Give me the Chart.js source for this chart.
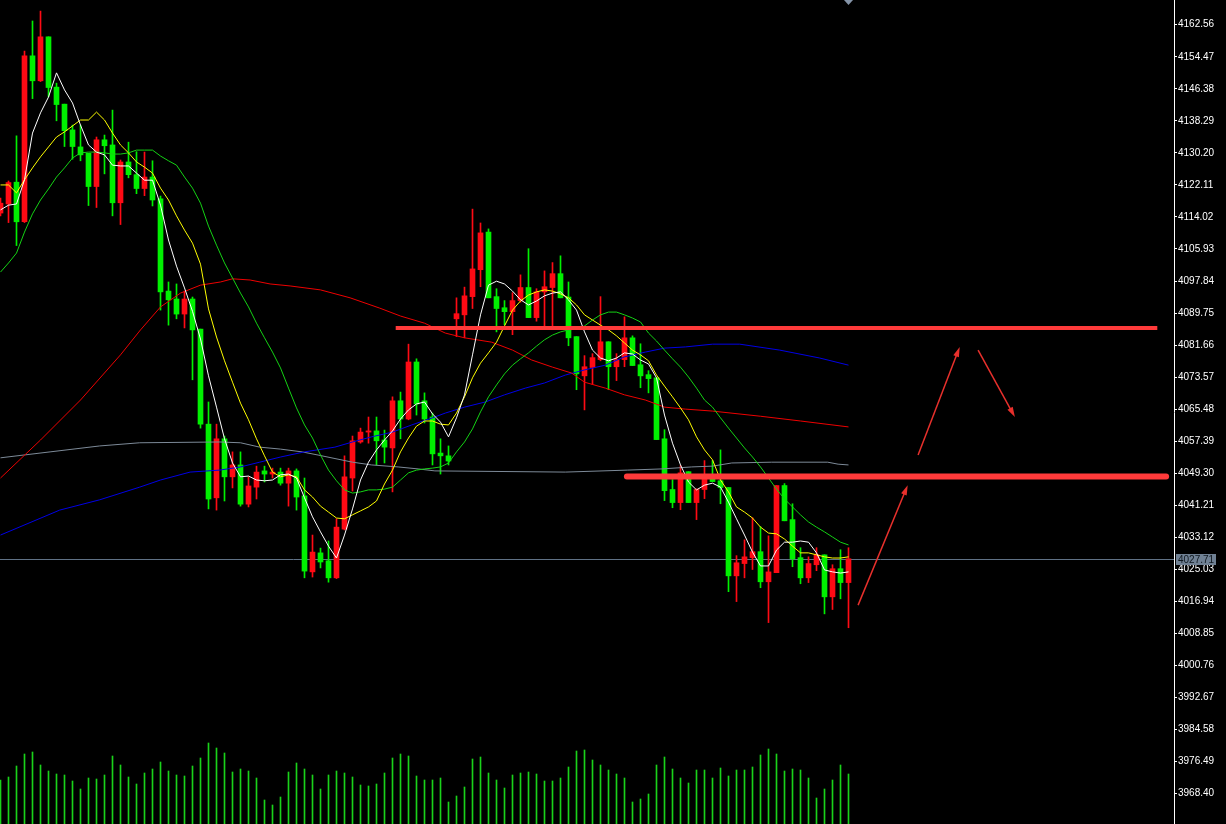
<!DOCTYPE html>
<html>
<head>
<meta charset="utf-8">
<script src="https://cdn.jsdelivr.net/npm/chart.js@4.4.0/dist/chart.umd.min.js"></script>
<style>
html, body { margin: 0; padding: 0; background: #000; overflow: hidden; }
#wrap { width: 1226px; height: 824px; }
</style>
</head>
<body>
<div id="wrap"><canvas id="myChart" width="1226" height="824"></canvas></div>
<script>
// price scale labels (right axis)
const yTicks = [3968.40, 3976.49, 3984.58, 3992.67, 4000.76, 4008.85, 4016.94, 4025.03, 4033.12, 4041.21,
    4049.30, 4057.39, 4065.48, 4073.57, 4081.66, 4089.75, 4097.84, 4105.93, 4114.02, 4122.11,
    4130.20, 4138.29, 4146.38, 4154.47, 4162.56];

const candleOpen = [4115.0, 4117.3, 4122.8, 4112.8, 4154.7, 4148.4, 4159.5, 4146.8, 4142.5, 4136.0,
    4131.7, 4130.1, 4121.7, 4133.5, 4132.2, 4117.6, 4127.9, 4124.7, 4121.2, 4124.1,
    4118.6, 4095.3, 4093.3, 4089.5, 4093.3, 4085.7, 4061.7, 4043.1, 4058.0, 4048.4,
    4051.4, 4041.5, 4045.8, 4049.9, 4049.1, 4049.6, 4046.8, 4049.9, 4043.6, 4024.4,
    4029.2, 4027.2, 4022.9, 4035.2, 4048.1, 4057.2, 4059.7, 4060.0, 4057.7, 4055.7,
    4067.6, 4063.0, 4077.4, 4067.6, 4063.5, 4054.4, 4053.7, 4088.3, 4089.3, 4093.9,
    4100.7, 4110.2, 4093.9, 4091.1, 4090.1, 4092.9, 4096.2, 4088.6, 4095.1, 4096.2,
    4099.7, 4093.8, 4083.8, 4073.9, 4076.0, 4078.0, 4082.5, 4076.2, 4078.0, 4083.5,
    4076.7, 4074.2, 4073.4, 4058.0, 4045.2, 4041.9, 4049.7, 4041.9, 4045.2, 4047.9,
    4047.4, 4045.7, 4023.4, 4026.5, 4028.0, 4029.5, 4021.9, 4024.2, 4046.2, 4037.6,
    4028.0, 4022.9, 4026.2, 4028.7, 4018.1, 4025.2, 4021.7];
const candleHigh = [4118.8, 4123.1, 4134.5, 4155.9, 4163.5, 4166.0, 4159.5, 4147.8, 4142.5, 4137.2,
    4137.2, 4130.1, 4134.2, 4134.7, 4141.0, 4128.4, 4132.9, 4130.5, 4130.4, 4128.2,
    4119.3, 4097.6, 4097.1, 4095.3, 4093.8, 4085.7, 4067.3, 4061.7, 4058.7, 4054.7,
    4054.7, 4048.4, 4051.1, 4051.1, 4050.6, 4050.6, 4050.6, 4050.4, 4048.1, 4033.7,
    4030.4, 4032.2, 4037.8, 4053.7, 4058.7, 4060.7, 4063.5, 4063.5, 4060.2, 4068.6,
    4069.8, 4081.9, 4078.2, 4069.6, 4064.5, 4058.0, 4056.2, 4093.6, 4096.3, 4116.0,
    4112.5, 4111.0, 4095.9, 4092.9, 4094.9, 4099.4, 4106.0, 4095.9, 4100.4, 4102.5,
    4104.2, 4097.6, 4083.8, 4079.0, 4079.5, 4093.9, 4082.5, 4079.5, 4088.8, 4084.0,
    4082.0, 4075.2, 4073.4, 4060.3, 4047.7, 4051.2, 4049.7, 4045.4, 4052.5, 4052.5,
    4055.2, 4045.7, 4028.5, 4032.5, 4038.1, 4035.8, 4033.5, 4046.2, 4046.7, 4041.6,
    4030.5, 4028.2, 4030.5, 4028.7, 4026.2, 4030.0, 4030.5];
const candleLow = [4114.3, 4112.6, 4106.8, 4112.6, 4143.9, 4148.2, 4144.4, 4138.3, 4131.8, 4128.6,
    4128.2, 4116.9, 4116.4, 4124.9, 4114.3, 4112.1, 4123.9, 4119.9, 4119.4, 4116.8,
    4090.5, 4086.7, 4088.3, 4086.0, 4072.9, 4060.7, 4040.3, 4040.0, 4042.3, 4045.6,
    4041.0, 4040.8, 4042.8, 4047.1, 4048.1, 4046.3, 4041.0, 4040.0, 4022.9, 4023.1,
    4025.4, 4021.8, 4022.7, 4035.0, 4044.8, 4056.9, 4056.9, 4051.4, 4051.9, 4044.6,
    4058.0, 4062.8, 4064.0, 4062.0, 4051.4, 4049.1, 4051.4, 4083.8, 4083.5, 4090.9,
    4096.4, 4093.6, 4085.0, 4086.8, 4084.3, 4092.5, 4088.6, 4087.7, 4086.3, 4086.1,
    4093.6, 4081.5, 4070.4, 4065.3, 4071.7, 4077.7, 4070.4, 4072.7, 4076.2, 4076.5,
    4070.9, 4069.6, 4057.8, 4042.4, 4040.6, 4040.1, 4041.9, 4037.6, 4042.9, 4047.2,
    4041.6, 4019.4, 4016.9, 4022.9, 4025.0, 4020.4, 4011.6, 4024.2, 4037.3, 4025.7,
    4021.4, 4021.7, 4024.7, 4013.8, 4014.9, 4017.6, 4010.3];
const candleClose = [4117.5, 4122.7, 4112.8, 4154.7, 4148.4, 4159.5, 4146.7, 4142.4, 4135.8, 4131.8,
    4129.7, 4121.7, 4133.5, 4132.0, 4117.6, 4127.9, 4124.7, 4121.2, 4124.1, 4118.3,
    4095.1, 4093.1, 4089.5, 4093.3, 4085.5, 4061.7, 4042.8, 4058.0, 4048.4, 4051.4,
    4041.5, 4046.1, 4049.6, 4049.1, 4049.6, 4046.8, 4049.9, 4043.3, 4024.6, 4029.4,
    4026.9, 4022.9, 4035.7, 4048.4, 4057.5, 4059.7, 4060.0, 4057.5, 4055.9, 4067.6,
    4063.0, 4077.4, 4066.8, 4063.0, 4054.2, 4053.7, 4052.4, 4089.6, 4094.1, 4100.9,
    4110.0, 4093.6, 4090.9, 4090.1, 4092.9, 4096.2, 4088.6, 4095.1, 4096.4, 4099.7,
    4093.6, 4083.5, 4074.4, 4076.2, 4078.5, 4082.5, 4076.2, 4078.0, 4083.5, 4076.5,
    4073.9, 4073.2, 4057.8, 4044.9, 4041.9, 4049.4, 4041.9, 4045.2, 4047.9, 4047.2,
    4045.7, 4023.4, 4026.7, 4028.2, 4029.5, 4021.9, 4024.4, 4046.2, 4037.3, 4027.7,
    4022.9, 4026.5, 4028.7, 4018.1, 4025.2, 4021.7, 4027.71];

const volume = [44, 47, 58, 70, 72, 59, 53, 50, 49, 43, 35, 46, 45, 49, 68, 59, 47, 40, 51, 55,
    62, 53, 49, 48, 58, 66, 81, 76, 71, 52, 55, 53, 46, 24, 19, 27, 52, 61, 55, 49,
    35, 49, 53, 51, 47, 39, 38, 40, 51, 66, 70, 68, 48, 44, 44, 46, 22, 28, 37, 65,
    67, 51, 44, 36, 49, 51, 52, 50, 43, 43, 46, 57, 73, 74, 64, 59, 54, 50, 46, 22,
    25, 30, 59, 67, 55, 46, 41, 54, 54, 46, 56, 48, 54, 54, 57, 69, 75, 70, 53, 55,
    54, 46, 26, 35, 44, 59, 50];

// moving averages, one value per candle
const ma5 = [4115.8, 4117.0, 4117.3, 4123.4, 4135.2, 4140.3, 4144.3, 4150.4, 4146.1, 4142.8,
    4137.2, 4132.2, 4130.4, 4129.7, 4127.1, 4126.9, 4126.9, 4125.1, 4123.3, 4123.3,
    4117.0, 4108.2, 4101.6, 4096.1, 4090.2, 4083.2, 4073.9, 4066.0, 4058.0, 4051.9,
    4048.4, 4048.6, 4047.6, 4047.4, 4047.6, 4048.9, 4049.1, 4048.1, 4043.1, 4038.3,
    4034.5, 4030.9, 4027.9, 4033.7, 4040.3, 4047.6, 4052.1, 4055.2, 4057.7, 4060.0,
    4063.0, 4065.3, 4066.8, 4067.3, 4064.3, 4062.2, 4058.5, 4063.3, 4069.1, 4079.2,
    4089.3, 4096.8, 4097.8, 4097.1, 4095.3, 4093.1, 4091.8, 4092.8, 4094.1, 4094.8,
    4095.1, 4093.1, 4090.5, 4085.0, 4080.4, 4078.4, 4077.7, 4078.4, 4079.7, 4079.4,
    4077.9, 4076.9, 4073.4, 4064.0, 4056.9, 4051.4, 4047.1, 4045.1, 4046.3, 4046.8,
    4045.8, 4042.0, 4037.8, 4033.7, 4029.4, 4025.9, 4025.9, 4029.9, 4031.9, 4031.9,
    4032.2, 4031.9, 4029.2, 4024.9, 4024.4, 4024.1, 4024.4];
const ma10 = [4122.1, 4122.1, 4120.1, 4123.4, 4126.4, 4129.2, 4131.7, 4134.2, 4135.5, 4137.0,
    4138.5, 4138.5, 4140.5, 4138.5, 4135.2, 4132.2, 4130.2, 4127.9, 4126.6, 4125.1,
    4121.3, 4118.3, 4114.3, 4110.7, 4107.4, 4102.1, 4090.8, 4083.7, 4077.7, 4072.3,
    4067.0, 4062.8, 4058.0, 4053.7, 4049.6, 4048.4, 4048.9, 4048.4, 4045.1, 4043.3,
    4041.0, 4039.5, 4038.0, 4037.8, 4038.8, 4039.8, 4040.8, 4042.3, 4046.6, 4050.1,
    4054.7, 4058.2, 4061.2, 4062.5, 4062.5, 4061.7, 4061.5, 4064.5, 4068.6, 4073.4,
    4077.1, 4079.7, 4082.4, 4086.5, 4090.5, 4092.8, 4094.3, 4095.1, 4095.6, 4095.3,
    4094.6, 4093.6, 4091.8, 4089.3, 4088.0, 4086.7, 4085.5, 4084.0, 4082.2, 4080.4,
    4079.2, 4077.7, 4074.1, 4071.3, 4068.6, 4065.8, 4062.8, 4058.5, 4055.2, 4052.7,
    4047.6, 4044.6, 4040.8, 4039.5, 4038.0, 4035.7, 4034.2, 4034.0, 4032.7, 4030.9,
    4029.2, 4029.2, 4028.7, 4028.2, 4027.9, 4027.9, 4028.2];
const ma20 = [4100.1, 4102.4, 4104.9, 4110.2, 4114.8, 4118.3, 4121.1, 4124.1, 4126.4, 4128.9,
    4130.2, 4130.4, 4130.4, 4130.2, 4129.9, 4129.9, 4130.2, 4130.9, 4130.9, 4130.9,
    4129.4, 4128.2, 4127.1, 4124.1, 4121.3, 4117.5, 4111.7, 4106.9, 4102.4, 4098.6,
    4094.8, 4091.3, 4087.2, 4083.5, 4079.9, 4075.9, 4070.8, 4065.8, 4061.5, 4058.2,
    4053.9, 4050.1, 4047.4, 4045.1, 4044.3, 4044.6, 4045.1, 4045.1, 4045.3, 4045.8,
    4047.6, 4049.4, 4050.1, 4050.4, 4050.6, 4050.9, 4051.9, 4054.7, 4057.2, 4060.5,
    4064.8, 4068.6, 4071.6, 4074.4, 4076.6, 4078.2, 4079.7, 4081.4, 4083.0, 4084.2,
    4085.0, 4085.5, 4085.7, 4086.5, 4088.0, 4089.3, 4090.0, 4090.0, 4089.3, 4088.5,
    4087.5, 4084.7, 4082.7, 4080.4, 4078.2, 4076.1, 4073.6, 4070.8, 4067.8, 4066.0,
    4063.3, 4060.7, 4058.2, 4055.7, 4053.4, 4050.9, 4048.1, 4045.3, 4042.8, 4040.8,
    4038.8, 4037.0, 4035.7, 4034.5, 4033.2, 4031.9, 4031.2];

// slow averages read at sample points: [candle index, price]
const ma60 = [[0, 4048.1], [5, 4057.7], [10, 4067.8], [15, 4079.2], [17.5, 4085.5], [20, 4091.3],
    [22.5, 4094.8], [25, 4096.8], [27.5, 4097.6], [29, 4098.4], [31.2, 4098.1], [33.7, 4097.1],
    [36.2, 4096.6], [40, 4095.6], [43.7, 4093.6], [47.4, 4091.0], [50, 4089.0], [53, 4087.2],
    [55.6, 4084.7], [58, 4083.5], [61.4, 4082.4], [64, 4080.4], [66.4, 4077.9], [69, 4076.1],
    [71.4, 4074.6], [73, 4072.3], [75.6, 4070.8], [78, 4069.1], [80.6, 4067.8], [83, 4066.0],
    [85.6, 4065.5], [89, 4065.0], [95, 4063.7], [100, 4062.5], [106, 4061.0]];
const ma120 = [[0, 4033.7], [7.4, 4040.0], [12.4, 4042.6], [17.4, 4045.8], [20, 4047.6], [23.7, 4049.6],
    [27.4, 4050.1], [30, 4050.9], [32.4, 4052.1], [35, 4053.4], [38, 4054.7], [41.8, 4055.9],
    [44, 4057.2], [46.4, 4058.5], [49, 4059.7], [51.4, 4061.5], [54, 4063.3], [55.6, 4064.5],
    [58, 4066.0], [60.6, 4067.3], [63, 4069.1], [65.6, 4070.8], [68, 4072.1], [70.6, 4074.1],
    [73, 4075.4], [75.6, 4076.6], [78, 4078.7], [80.6, 4079.9], [83, 4080.9], [85.6, 4081.2],
    [89, 4081.9], [92.4, 4081.9], [97.4, 4080.4], [102.4, 4078.4], [106, 4076.6]];
const ma250 = [[0, 4053.2], [6.2, 4054.7], [12.4, 4056.2], [17.4, 4057.0], [27.4, 4057.2], [30, 4057.0],
    [32.4, 4055.9], [35, 4055.4], [37.7, 4054.7], [39.7, 4053.9], [44, 4052.1], [46.4, 4051.4],
    [49.7, 4050.9], [52.2, 4050.4], [54.3, 4049.9], [70.6, 4049.6], [78.4, 4050.1], [82.7, 4050.4],
    [86.4, 4050.9], [89, 4051.1], [91.4, 4051.9], [96.4, 4052.1], [103.4, 4052.1], [104.7, 4051.6],
    [106, 4051.4]];

// hand-drawn marks, in candle index / price
const levelLines = [
    { from: 49.4, to: 144.6, price: 4086.0, width: 4 },
    { from: 78.3, to: 145.7, price: 4048.5, width: 6 }
];
const arrows = [
    { x0: 107.2, y0: 4016.0, x1: 113.4, y1: 4046.3 },
    { x0: 114.7, y0: 4053.9, x1: 119.9, y1: 4081.2 },
    { x0: 122.2, y0: 4080.4, x1: 126.8, y1: 4063.5 }
];

const idx = candleClose.map((_, i) => i);
const lastIdx = idx.length - 1;
const lastPrice = candleClose[lastIdx];
const candleColors = idx.map(i => candleClose[i] >= candleOpen[i] ? '#ff0a14' : '#00f000');

const overlay = {
    id: 'overlay',
    beforeDatasetsDraw(chart) {
        const { ctx, chartArea } = chart;
        const y = Math.round(chart.scales.y.getPixelForValue(lastPrice)) + 0.5;
        ctx.save();
        ctx.strokeStyle = '#5f7185';
        ctx.lineWidth = 1;
        ctx.beginPath();
        ctx.moveTo(chartArea.left, y);
        ctx.lineTo(chartArea.right, y);
        ctx.stroke();
        ctx.restore();
    },
    afterDatasetsDraw(chart) {
        const { ctx } = chart;
        const xs = chart.scales.x, ys = chart.scales.y;
        ctx.save();
        ctx.strokeStyle = '#ff3a3a';
        levelLines.forEach(l => {
            const y = ys.getPixelForValue(l.price);
            ctx.lineWidth = l.width;
            ctx.lineCap = l.width > 5 ? 'round' : 'butt';
            ctx.beginPath();
            ctx.moveTo(xs.getPixelForValue(l.from), y);
            ctx.lineTo(xs.getPixelForValue(l.to), y);
            ctx.stroke();
        });
        ctx.strokeStyle = '#e8302c';
        ctx.fillStyle = '#e8302c';
        ctx.lineCap = 'butt';
        arrows.forEach(a => {
            const x0 = xs.getPixelForValue(a.x0), y0 = ys.getPixelForValue(a.y0);
            const x1 = xs.getPixelForValue(a.x1), y1 = ys.getPixelForValue(a.y1);
            const ang = Math.atan2(y1 - y0, x1 - x0);
            ctx.lineWidth = 1.5;
            ctx.beginPath();
            ctx.moveTo(x0, y0);
            ctx.lineTo(x1 - 6 * Math.cos(ang), y1 - 6 * Math.sin(ang));
            ctx.stroke();
            ctx.beginPath();
            ctx.moveTo(x1, y1);
            ctx.lineTo(x1 - 10 * Math.cos(ang) + 3 * Math.sin(ang), y1 - 10 * Math.sin(ang) - 3 * Math.cos(ang));
            ctx.lineTo(x1 - 10 * Math.cos(ang) - 3 * Math.sin(ang), y1 - 10 * Math.sin(ang) + 3 * Math.cos(ang));
            ctx.closePath();
            ctx.fill();
        });
        ctx.restore();
    },
    afterDraw(chart) {
        const { ctx, chartArea } = chart;
        const y = Math.round(chart.scales.y.getPixelForValue(lastPrice));
        const xm = chart.scales.x.getPixelForValue(lastIdx);
        ctx.save();
        // current price box
        ctx.fillStyle = '#6f8093';
        ctx.fillRect(chartArea.right + 2, y - 5, 40, 11);
        ctx.fillStyle = '#101820';
        ctx.font = '10px "Liberation Sans"';
        ctx.textBaseline = 'middle';
        ctx.fillText(lastPrice.toFixed(2), chartArea.right + 4, y + 1);
        // current bar marker
        ctx.fillStyle = '#8594a8';
        ctx.beginPath();
        ctx.moveTo(xm - 4.5, 0);
        ctx.lineTo(xm + 4.5, 0);
        ctx.lineTo(xm, 5);
        ctx.closePath();
        ctx.fill();
        ctx.restore();
    }
};

function lineSet(label, values, color, order) {
    return {
        type: 'line',
        label: label,
        data: values.map((v, i) => Array.isArray(v) ? { x: v[0], y: v[1] } : { x: i, y: v }),
        borderColor: color,
        borderWidth: 1,
        pointRadius: 0,
        tension: 0,
        fill: false,
        order: order
    };
}

const ctx = document.getElementById('myChart').getContext('2d');

new Chart(ctx, {
    type: 'bar',
    data: {
        datasets: [
            {
                label: 'volume',
                data: idx.map(i => ({ x: i, y: volume[i] })),
                yAxisID: 'yv',
                backgroundColor: '#1ad21a',
                barThickness: 1,
                grouped: false,
                order: 10
            },
            {
                label: 'wick',
                data: idx.map(i => ({ x: i, y: [candleLow[i], candleHigh[i]] })),
                backgroundColor: candleColors,
                barThickness: 1,
                grouped: false,
                order: 9
            },
            {
                label: 'body',
                data: idx.map(i => ({ x: i, y: [candleOpen[i], candleClose[i]] })),
                backgroundColor: candleColors,
                barThickness: 5,
                minBarLength: 1,
                grouped: false,
                order: 8
            },
            lineSet('MA250', ma250, '#7d8a98', 7),
            lineSet('MA120', ma120, '#0000e6', 6),
            lineSet('MA60', ma60, '#ee0000', 5),
            lineSet('MA20', ma20, '#14d214', 4),
            lineSet('MA10', ma10, '#ffff00', 3),
            lineSet('MA5', ma5, '#ffffff', 2)
        ]
    },
    options: {
        responsive: false,
        animation: false,
        devicePixelRatio: 1,
        layout: { padding: 0 },
        plugins: {
            legend: { display: false },
            tooltip: { enabled: false }
        },
        scales: {
            x: {
                type: 'linear',
                min: -0.0625,
                max: 146.6875,
                offset: false,
                display: false
            },
            y: {
                position: 'right',
                min: 3960.74,
                max: 4168.80,
                afterBuildTicks: scale => { scale.ticks = yTicks.map(v => ({ value: v })); },
                afterFit: scale => {
                    scale.width = 52;
                    scale.paddingTop = 0;
                    scale.paddingBottom = 0;
                },
                ticks: {
                    color: '#ffffff',
                    font: { family: 'Liberation Sans', size: 10 },
                    padding: 1,
                    callback: v => v.toFixed(2)
                },
                grid: {
                    drawOnChartArea: false,
                    drawTicks: true,
                    tickLength: 3,
                    color: '#ffffff'
                },
                border: { display: true, color: '#ffffff', width: 1 }
            },
            yv: {
                display: false,
                min: 0,
                max: 824
            }
        }
    },
    plugins: [overlay]
});
</script>
</body>
</html>
